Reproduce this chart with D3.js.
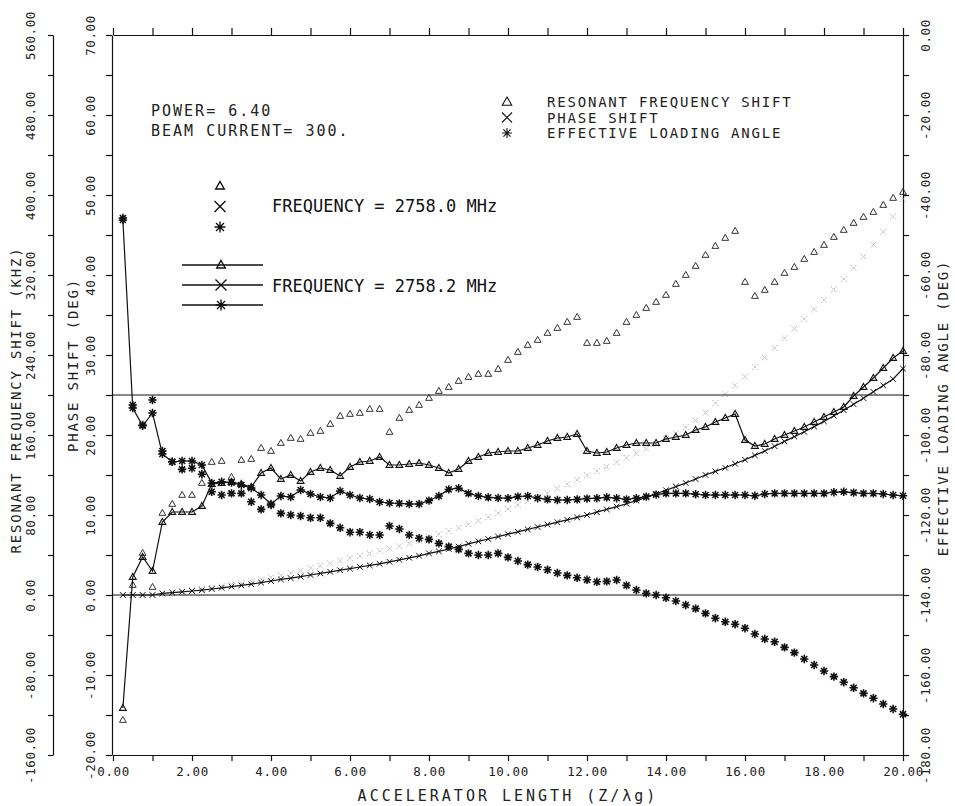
<!DOCTYPE html>
<meta charset="utf-8">
<style>
body { margin: 0; background: #fff; }
svg { display: block; background: #fff; }
text { font-family: "DejaVu Sans Mono", "Liberation Mono", monospace; fill: #222; }
.axis path, .axis line { stroke: #111; stroke-width: 1.2px; fill: none; }
.axis text { font-size: 12.5px; letter-spacing: 0.6px; }
.plotlabel { font-size: 14px; letter-spacing: 1.8px; }
.freqlabel { font-size: 17px; fill: #111; }
</style>
<body>
<svg width="955" height="806"></svg>
<script src="https://cdn.jsdelivr.net/npm/d3@7"></script>
<script>

// accelerator length positions (Z / lambda g)
var zPos = [0.25,0.5,0.75,1,1.25,1.5,1.75,2,2.25,2.5,2.75,3,3.25,3.5,3.75,4,
  4.25,4.5,4.75,5,5.25,5.5,5.75,6,6.25,6.5,6.75,7,7.25,7.5,7.75,8,
  8.25,8.5,8.75,9,9.25,9.5,9.75,10,10.25,10.5,10.75,11,11.25,11.5,11.75,12,
  12.25,12.5,12.75,13,13.25,13.5,13.75,14,14.25,14.5,14.75,15,15.25,15.5,15.75,16,
  16.25,16.5,16.75,17,17.25,17.5,17.75,18,18.25,18.5,18.75,19,19.25,19.5,19.75,20];

// resonant frequency shift (kHz)
var freq2758_2 = [-113,18,38,24, 73,83,83,83, 89,111,112,113, 111,108,122,127,
  116,120,114,123, 127,125,119,128, 133,134,138,130, 130,131,132,130,
  127,122,126,134, 138,142,143,144, 144,147,150,154, 157,158,161,144,
  142,143,147,150, 152,152,152,156, 158,160,165,168, 173,177,181,155,
  149,151,156,160, 164,168,173,178, 183,188,199,208, 217,227,237,244];
var freq2758_0 = [-125,10,42,8, 82,91,100,100, 112,133,134,118, 135,136,147,144,
  152,157,156,162, 164,171,179,181, 182,186,186,163, 177,185,190,197,
  204,208,214,218, 221,221,226,235, 243,250,255,262, 267,273,278,252,
  252,254,262,273, 280,287,293,300, 311,320,329,340, 349,357,364,313,
  299,305,313,322, 328,336,343,350, 358,365,372,378, 383,390,397,403];

// phase shift (deg)
var phase2758_2 = [0,0,0,0, 0.2,0.3,0.4,0.5, 0.6,0.75,0.9,1.05, 1.2,1.35,1.55,1.75,
  1.95,2.1,2.3,2.5, 2.7,2.9,3.1,3.3, 3.5,3.7,3.9,4.15, 4.4,4.65,4.9,5.2,
  5.45,5.75,6.05,6.4, 6.7,7.0,7.3,7.6, 7.9,8.2,8.5,8.8, 9.1,9.4,9.7,10.0,
  10.35,10.7,11.05,11.4, 11.8,12.2,12.65,13.1, 13.55,14.0,14.5,15.0, 15.45,15.9,16.4,16.9,
  17.45,18.0,18.6,19.2, 19.8,20.4,21.05,21.7, 22.4,23.1,23.85,24.6, 25.4,26.2,27.0,28.3];
var phase2758_0 = [0,0,0,0.05, 0.2,0.3,0.45,0.6, 0.75,0.9,1.1,1.3, 1.5,1.7,1.95,2.2,
  2.45,2.75,3.05,3.35, 3.65,3.95,4.3,4.6, 4.9,5.2,5.5,5.8, 6.1,6.45,6.8,7.2,
  7.6,8.0,8.4,8.85, 9.3,9.75,10.25,10.75, 11.25,11.75,12.25,12.75, 13.3,13.85,14.4,14.95,
  15.5,16.05,16.6,17.15, 17.7,18.3,18.9,19.5, 20.2,21.0,21.8,22.8, 24.0,25.1,26.2,27.3,
  28.5,29.7,30.9,32.1, 33.3,34.5,35.7,36.9, 38.2,39.5,40.9,42.3, 43.8,45.4,47.3,49.5];

// effective loading angle (deg)
var angle2758_2 = [-46.25,-93.25,-97.7,-94.5, -104.75,-106.7,-106.5,-106.5, -107.5,-112,-111.7,-111.9,
  -112.5,-113.25,-115,-117.25, -115.25,-115.5,-113.75,-114.75, -115.5,-115.75,-114,-115,
  -115.75,-116,-116.75,-117, -117.1,-117.25,-117.25,-116.4, -115.25,-113.6,-113.3,-114.6,
  -115.25,-115.6,-115.75,-115.8, -115.4,-115.25,-115.8,-116.1, -116.25,-116.25,-116.1,-115.9,
  -115.8,-115.6,-115.8,-116.1, -115.8,-115.4,-114.9,-114.6, -114.6,-114.6,-114.8,-115,
  -115,-115,-115,-115, -115.2,-114.75,-114.6,-114.6, -114.6,-114.6,-114.6,-114.6,
  -114.3,-114.2,-114.4,-114.6, -114.6,-114.75,-115,-115.2];
var angle2758_0 = [-45.75,-92.5,-97.5,-91.25, -104,-106.7,-108.6,-108.3, -109.8,-114.2,-115,-114.6,
  -114.6,-116.7,-118.6,-117.5, -119.6,-120,-120.25,-120.7, -120.7,-122.1,-123.2,-124.3,
  -124.3,-125,-125,-122.75, -123.5,-125,-125.8,-126.1, -127.1,-127.9,-128.6,-129.6,
  -130,-130,-129.6,-130.6, -131.5,-132.4,-133,-133.7, -134.5,-135.1,-135.7,-136.2,
  -136.7,-136.6,-136.25,-137.6, -138.75,-139.6,-140,-140.7, -141.5,-142.5,-143.4,-144.6,
  -145.8,-146.7,-147.3,-148.3, -149.75,-151,-151.7,-153.1, -154.4,-156,-157.5,-159,
  -160.4,-161.8,-163.2,-164.6, -165.8,-167.25,-168.5,-169.8];

var svg = d3.select("svg");

var x = d3.scaleLinear().domain([0, 20]).range([113, 903]);
var yFreq = d3.scaleLinear().domain([-160, 560]).range([755, 35]);
var yPhase = d3.scaleLinear().domain([-20, 70]).range([755, 35]);
var yAngle = d3.scaleLinear().domain([-180, 0]).range([755, 35]);

function fmt(d) { return d.toFixed(2); }

// ---- axes ----
var xb = svg.append("g").attr("class", "axis").attr("transform", "translate(0,755)")
  .call(d3.axisBottom(x).ticks(20).tickSize(6).tickSizeOuter(0)
    .tickFormat(function(d) { return d % 2 === 0 ? fmt(d) : ""; }));
xb.selectAll(".tick text").attr("y", 12);

svg.append("g").attr("class", "axis").attr("transform", "translate(0,35)")
  .call(d3.axisTop(x).ticks(20).tickSize(7).tickSizeOuter(0).tickFormat(""));

function rotLabels(g, off) {
  g.selectAll(".tick text")
    .attr("transform", "rotate(-90)")
    .attr("x", 0).attr("y", off).attr("dy", null)
    .attr("text-anchor", "middle");
}

var gPhase = svg.append("g").attr("class", "axis").attr("transform", "translate(112,0)")
  .call(d3.axisLeft(yPhase).ticks(18).tickSize(6).tickSizeOuter(0)
    .tickFormat(function(d) { return d % 10 === 0 ? fmt(d) : ""; }));
rotLabels(gPhase, -17);

var gFreq = svg.append("g").attr("class", "axis").attr("transform", "translate(53,0)")
  .call(d3.axisLeft(yFreq).tickValues(d3.range(-160, 561, 40)).tickSize(5).tickSizeOuter(0)
    .tickFormat(function(d) { return d % 80 === 0 ? fmt(d) : ""; }));
rotLabels(gFreq, -18);

var gAngle = svg.append("g").attr("class", "axis").attr("transform", "translate(903,0)")
  .call(d3.axisRight(yAngle).ticks(18).tickSize(6).tickSizeOuter(0)
    .tickFormat(function(d) { return d % 20 === 0 ? fmt(d) : ""; }));
rotLabels(gAngle, 27);

// axis titles
function vtitle(tx, ty, s) {
  svg.append("text").attr("class", "plotlabel")
    .attr("transform", "translate(" + tx + "," + ty + ") rotate(-90)")
    .attr("text-anchor", "middle").attr("dy", "0.36em")
    .text(s);
}
vtitle(16, 400, "RESONANT FREQUENCY SHIFT (KHZ)");
vtitle(73, 365, "PHASE SHIFT (DEG)");
vtitle(943, 408, "EFFECTIVE LOADING ANGLE (DEG)");
svg.append("text").attr("class", "plotlabel")
  .attr("x", 508).attr("y", 801).attr("text-anchor", "middle")
  .style("font-size", "15px").style("letter-spacing", "3px")
  .text("ACCELERATOR LENGTH (Z/λg)");

// reference lines
[yPhase(0), yAngle(-90)].forEach(function(yy) {
  svg.append("line").attr("x1", 112).attr("x2", 903).attr("y1", yy).attr("y2", yy)
    .attr("stroke", "#111").attr("stroke-width", 1.1);
});

// ---- markers ----
function sym(type, s) {
  if (type === "tri") return "M0," + (-s) + "L" + (s * 0.95) + "," + (s * 0.65) + "L" + (-s * 0.95) + "," + (s * 0.65) + "Z";
  if (type === "x") return "M" + (-s) + "," + (-s) + "L" + s + "," + s + "M" + (-s) + "," + s + "L" + s + "," + (-s);
  var a = s * 0.72;
  return "M0," + (-s) + "V" + s + "M" + (-s) + ",0H" + s +
    "M" + (-a) + "," + (-a) + "L" + a + "," + a + "M" + (-a) + "," + a + "L" + a + "," + (-a);
}

function series(vals, yScale, type, opt) {
  var pts = zPos.map(function(z, i) { return [x(z), yScale(vals[i])]; });
  if (opt.line) {
    svg.append("path").datum(pts)
      .attr("d", d3.line())
      .attr("fill", "none").attr("stroke", "#111").attr("stroke-width", 1.2);
  }
  svg.append("g").selectAll("path").data(pts).enter().append("path")
    .attr("transform", function(p) { return "translate(" + p[0] + "," + p[1] + ")"; })
    .attr("d", sym(type, opt.size))
    .attr("fill", "none")
    .attr("stroke", opt.color)
    .attr("stroke-width", opt.width)
    .attr("stroke-dasharray", opt.dash || null);
}

// 2758.0 MHz: markers only
series(phase2758_0, yPhase, "x", { size: 2.8, color: "#8a8a8a", width: 0.8, dash: "1.2,1" });
series(freq2758_0, yFreq, "tri", { size: 3.6, color: "#333", width: 1 });
series(angle2758_0, yAngle, "star", { size: 4.2, color: "#111", width: 1.6 });

// 2758.2 MHz: markers with lines
series(phase2758_2, yPhase, "x", { line: true, size: 2.8, color: "#111", width: 1 });
series(freq2758_2, yFreq, "tri", { line: true, size: 3.6, color: "#111", width: 1.1 });
series(angle2758_2, yAngle, "star", { line: true, size: 4.2, color: "#111", width: 1.5 });

// ---- annotation / legend ----
function label(tx, ty, s, cls) {
  return svg.append("text").attr("class", cls || "plotlabel").attr("x", tx).attr("y", ty).text(s);
}
label(151, 116, "POWER= 6.40").style("font-size", "15px").style("letter-spacing", "2px");
label(151, 136, "BEAM CURRENT= 300.").style("font-size", "15px").style("letter-spacing", "2px");

var legendRows = [
  { type: "tri", text: "RESONANT FREQUENCY SHIFT" },
  { type: "x", text: "PHASE SHIFT" },
  { type: "star", text: "EFFECTIVE LOADING ANGLE" }
];
legendRows.forEach(function(r, i) {
  var yy = 102 + i * 15.5;
  svg.append("path").attr("transform", "translate(507," + yy + ")")
    .attr("d", sym(r.type, r.type === "tri" ? 5 : 5))
    .attr("fill", "none").attr("stroke", "#111").attr("stroke-width", 1.1);
  label(547, yy + 5, r.text);
});

// frequency keys
legendRows.forEach(function(r, i) {
  var yy = 186 + i * 20.5;
  svg.append("path").attr("transform", "translate(220," + yy + ")")
    .attr("d", sym(r.type, r.type === "tri" ? 4.5 : 5.5))
    .attr("fill", "none").attr("stroke", "#111").attr("stroke-width", 1.4);
});
label(272, 212, "FREQUENCY = 2758.0 MHz", "freqlabel");

legendRows.forEach(function(r, i) {
  var yy = 265 + i * 20;
  svg.append("line").attr("x1", 182).attr("x2", 263).attr("y1", yy).attr("y2", yy)
    .attr("stroke", "#111").attr("stroke-width", 1.3);
  svg.append("path").attr("transform", "translate(221," + yy + ")")
    .attr("d", sym(r.type, r.type === "tri" ? 4.5 : 5.5))
    .attr("fill", "none").attr("stroke", "#111").attr("stroke-width", 1.4);
});
label(272, 292, "FREQUENCY = 2758.2 MHz", "freqlabel");

</script>
</body>
